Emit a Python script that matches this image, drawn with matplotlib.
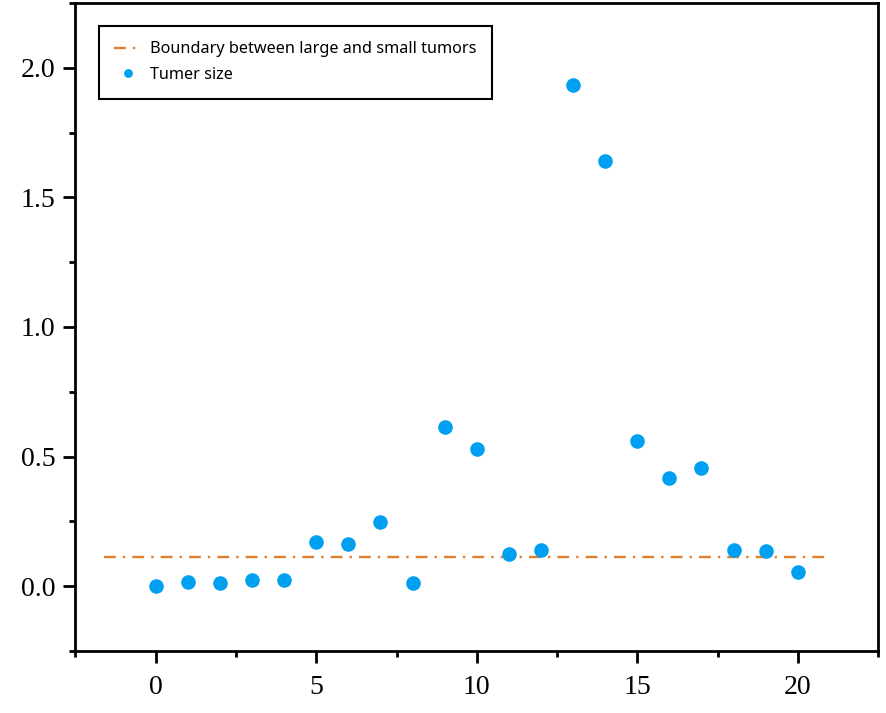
import matplotlib
matplotlib.use('Agg')
import matplotlib.pyplot as plt
from matplotlib.ticker import MultipleLocator, FuncFormatter

# tumor index and measured size
idx = list(range(21))
size = [0.0, 0.018, 0.012, 0.023, 0.023, 0.171, 0.162, 0.246, 0.012, 0.616,
        0.529, 0.124, 0.140, 1.932, 1.642, 0.561, 0.419, 0.454, 0.141, 0.134,
        0.055]
boundary = 0.113
boundary_x = [-1.6, 21.0]

fig = plt.figure(figsize=(8.86, 7.13), dpi=100)
ax = fig.add_axes([0.0852, 0.0870, 0.9058, 0.9088])

ax.plot(boundary_x, [boundary, boundary], linestyle=(0, (5, 3, 1, 3)),
        color='#E07F2E', linewidth=1.7,
        label='Boundary between large and small tumors')
ax.plot(idx, size, 'o', color='#00A0F0', markersize=10.5, markeredgewidth=0,
        label='Tumer size')

ax.set_xlim(-2.5, 22.5)
ax.set_ylim(-0.25, 2.25)
ax.xaxis.set_major_locator(MultipleLocator(5))
ax.xaxis.set_minor_locator(MultipleLocator(2.5))
ax.yaxis.set_major_locator(MultipleLocator(0.5))
ax.yaxis.set_minor_locator(MultipleLocator(0.25))
ax.yaxis.set_major_formatter(FuncFormatter(lambda v, p: '%.1f' % v))

for s in ax.spines.values():
    s.set_linewidth(2.0)
ax.tick_params(which='major', direction='out', length=8.5, width=2.0,
               labelsize=20)
ax.tick_params(which='minor', direction='out', length=4, width=2.0)
ax.tick_params(axis='x', which='major', pad=9)
ax.tick_params(axis='y', which='major', pad=6)
for lab in ax.get_xticklabels() + ax.get_yticklabels():
    lab.set_family('Liberation Serif')

leg = ax.legend(loc='upper left', bbox_to_anchor=(0.0293, 0.9645),
                prop={'family': 'Noto Sans', 'size': 11.7}, fancybox=False,
                edgecolor='black', framealpha=1, handlelength=1.7,
                handletextpad=0.5, markerscale=0.6, borderpad=0.95,
                labelspacing=0.6, borderaxespad=0)
leg.get_frame().set_linewidth(1.5)

fig.savefig('out.png', dpi=100)
